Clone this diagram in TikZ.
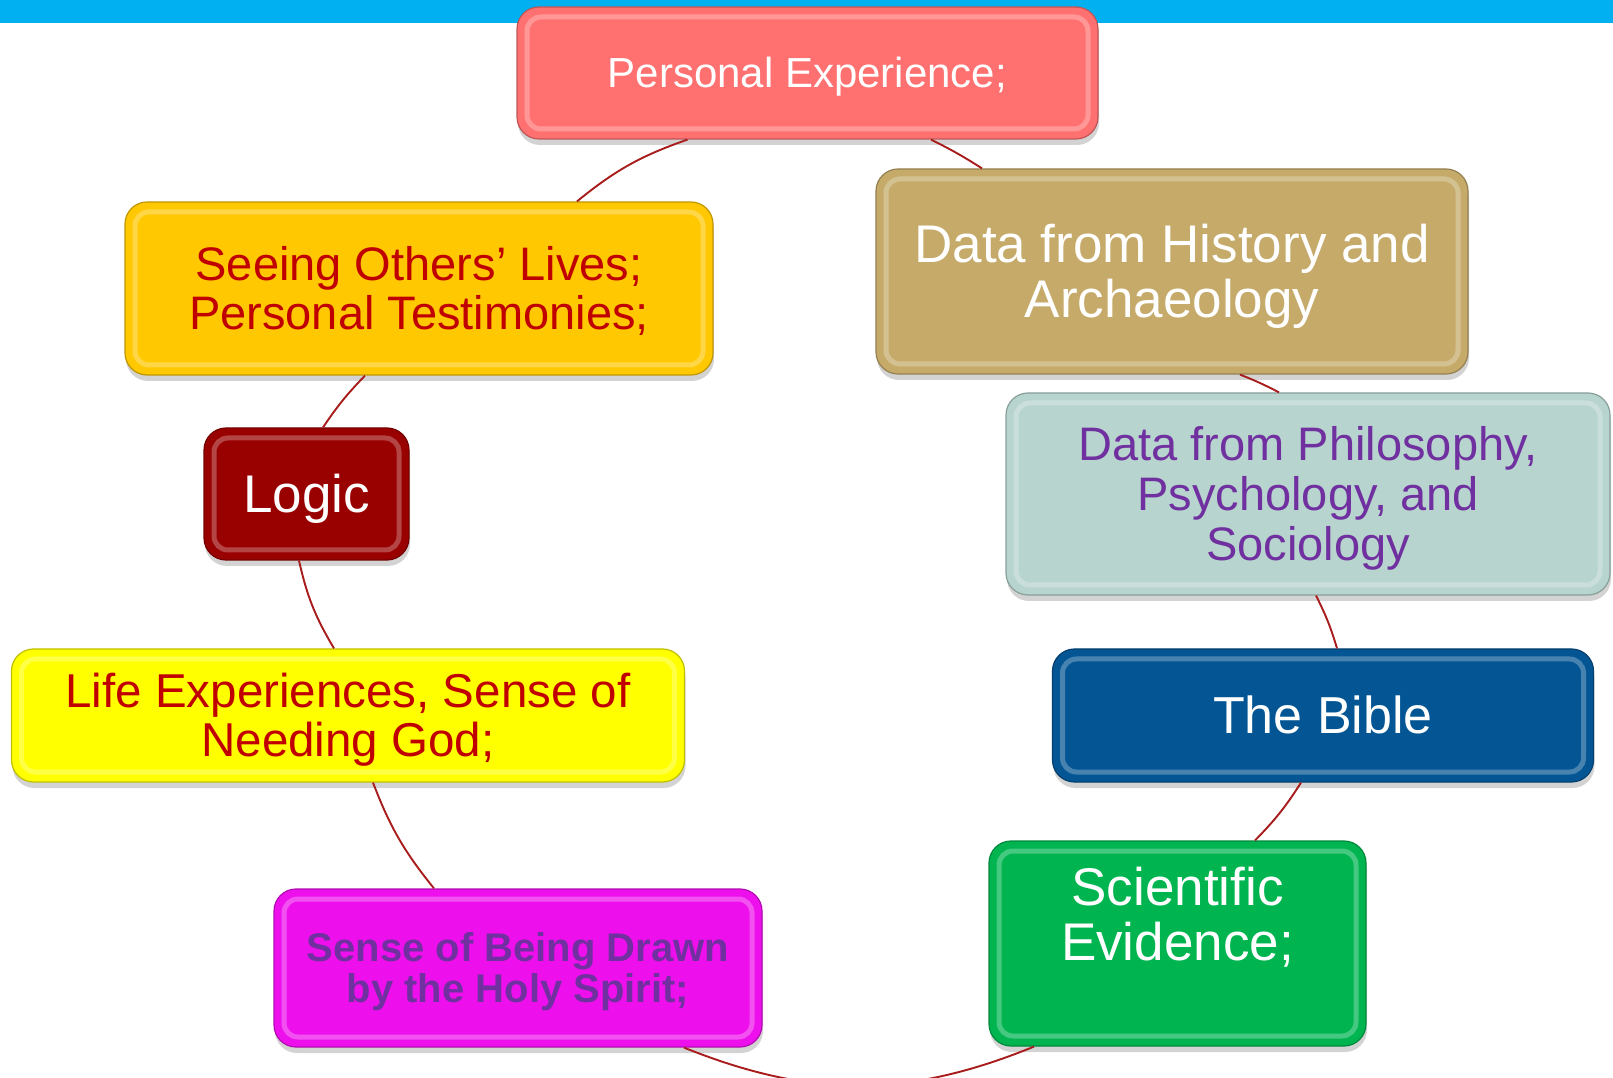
\documentclass[tikz,border=0pt]{standalone}
\usepackage{fontspec}
\setmainfont{Liberation Sans}
\usetikzlibrary{shadows}

\definecolor{topbar}{HTML}{00B0F0}
\definecolor{pecol}{HTML}{FF7171}
\definecolor{histcol}{HTML}{C5AA6A}
\definecolor{seecol}{HTML}{FFC800}
\definecolor{logiccol}{HTML}{990000}
\definecolor{philcol}{HTML}{B7D4CE}
\definecolor{lifecol}{HTML}{FFFF00}
\definecolor{biblecol}{HTML}{045594}
\definecolor{scicol}{HTML}{00B550}
\definecolor{sensecol}{HTML}{EE10EC}
\definecolor{redtxt}{HTML}{C00000}
\definecolor{purptxt}{HTML}{7030A0}
\definecolor{linkcol}{HTML}{A81C1C}

% line struts, so text sits like in the slide
\newcommand{\hiStrut}{\rule{0pt}{0.905em}}
\newcommand{\loStrut}{\rule[-0.212em]{0pt}{0pt}}

\tikzset{
  bevel/.style={rounded corners=22pt, inner sep=0pt, align=center,
    fill=#1, draw=#1!75!black, line width=1.2pt,
    drop shadow={shadow xshift=1pt, shadow yshift=-6pt, opacity=.35},
    path picture={
      \draw[#1!40!white, line width=5pt, opacity=.45, rounded corners=14pt]
        ([shift={(10pt,10pt)}]path picture bounding box.south west) rectangle
        ([shift={(-10pt,-10pt)}]path picture bounding box.north east);
    }},
  link/.style={draw=linkcol, line width=1.9pt},
}

\begin{document}
\begin{tikzpicture}[x=1pt, y=1pt]
  \useasboundingbox (0,0) rectangle (1613,1077);
  \clip (0,0) rectangle (1613,1077);
  \fill[topbar] (0,1054) rectangle (1613,1077); % top band

  % left half of the ring
  \node[bevel=pecol, minimum width=581pt, minimum height=132pt, text=white,
        font=\fontsize{42}{46}\selectfont] (pe) at (807.5,1004)
        {\hiStrut Personal Experience;\loStrut};
  \node[bevel=seecol, minimum width=588pt, minimum height=173pt, text=redtxt,
        font=\fontsize{47}{49}\selectfont] (see) at (419,788.5)
        {\hiStrut Seeing Others’ Lives;\\Personal Testimonies;\loStrut};
  \node[bevel=logiccol, minimum width=205pt, minimum height=132pt, text=white,
        font=\fontsize{53}{55}\selectfont] (logic) at (306.5,583)
        {\hiStrut Logic\loStrut};
  \node[bevel=lifecol, minimum width=673pt, minimum height=133pt, text=redtxt,
        font=\fontsize{47.5}{49}\selectfont] (life) at (348,361.5)
        {\hiStrut Life Experiences, Sense of\\Needing God;\loStrut};
  \node[bevel=sensecol, minimum width=488pt, minimum height=158pt, text=purptxt,
        font=\fontsize{40}{41}\selectfont\bfseries] (sense) at (518,109)
        {\hiStrut Sense of Being Drawn\\by the Holy Spirit;\loStrut};

  % right half of the ring
  \node[bevel=histcol, minimum width=592pt, minimum height=205pt, text=white,
        font=\fontsize{53}{55}\selectfont] (hist) at (1172,805.5)
        {\hiStrut Data from History and\\Archaeology\loStrut};
  \node[bevel=philcol, minimum width=604pt, minimum height=202pt, text=purptxt,
        font=\fontsize{47}{50}\selectfont] (phil) at (1308,583)
        {\hiStrut Data from Philosophy,\\Psychology, and\\Sociology\loStrut};
  \node[bevel=biblecol, minimum width=541pt, minimum height=133pt, text=white,
        font=\fontsize{52}{55}\selectfont] (bible) at (1323,361.5)
        {\hiStrut The Bible\loStrut};
  \node[bevel=scicol, minimum width=377pt, minimum height=205pt, text=white,
        text depth=69pt, font=\fontsize{53}{55}\selectfont] (sci) at (1177.5,133.5)
        {\hiStrut Scientific\\Evidence;};

  % ring arcs
  \draw[link] ([xshift=-120pt]pe.south) to[bend right=10] ([xshift=158pt]see.north);
  \draw[link] ([xshift=-54pt]see.south) to[bend right=5] ([xshift=16.5pt]logic.north);
  \draw[link] ([xshift=-7.5pt]logic.south) to[bend right=9] ([xshift=-14pt]life.north);
  \draw[link] ([xshift=25pt]life.south) to[bend right=9] ([xshift=-84pt]sense.north);
  \draw[link] ([xshift=166pt]sense.south) to[bend right=22] ([xshift=-143.5pt]sci.south);
  \draw[link] ([xshift=77.5pt]sci.north) to[bend right=6] ([xshift=-22pt]bible.south);
  \draw[link] ([xshift=14pt]bible.north) to[bend right=5] ([xshift=8pt]phil.south);
  \draw[link] ([xshift=-29pt]phil.north) to[bend right=3] ([xshift=68pt]hist.south);
  \draw[link] ([xshift=-190pt]hist.north) to[bend right=3] ([xshift=123.5pt]pe.south);
\end{tikzpicture}
\end{document}
